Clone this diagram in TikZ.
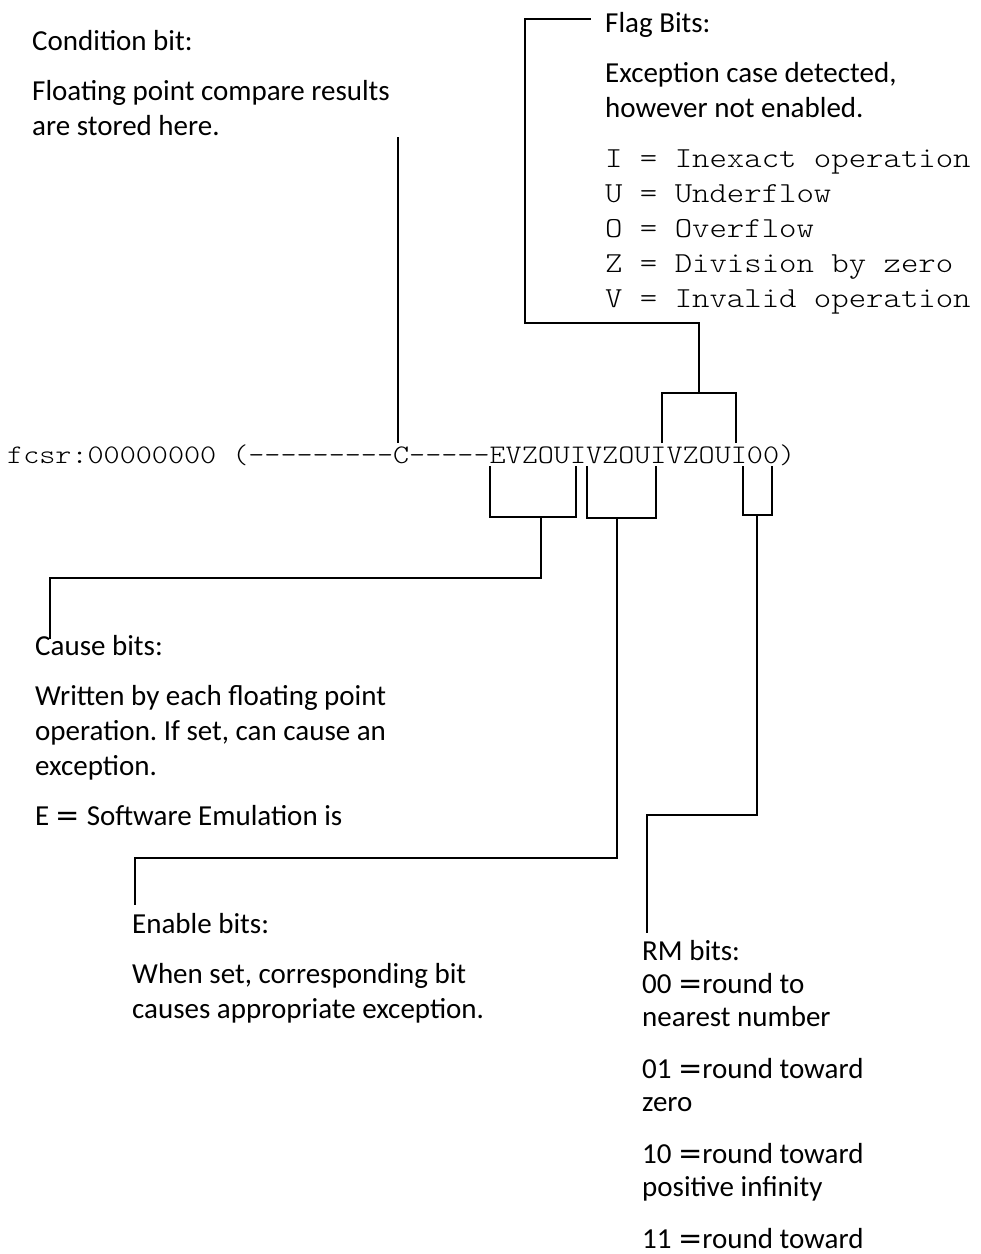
\documentclass[tikz,border=0pt]{standalone}
\usepackage{fontspec}
\setmainfont{Carlito}
\setmonofont{Latin Modern Mono Light}[FakeStretch=1.143]
\newfontfamily\eqfont{DejaVu Sans}
\newcommand{\eqs}{{\eqfont =}}
\frenchspacing

\begin{document}
\begin{tikzpicture}[
        x=1pt, y=-1pt,
        note/.style={
            anchor=north west, inner sep=0pt, align=left,
            font=\fontsize{29}{35}\selectfont
        },
        bits/.style={
            anchor=base west, inner sep=0pt,
            font=\fontsize{26.8}{32}\selectfont\ttfamily
        },
        link/.style={black, line width=2.3pt, line join=miter}
    ]
    \useasboundingbox (0,0) rectangle (981,1254);

    % --- Register contents ---
    \node[bits] (fcsr) at (7,463)
    {fcsr:00000000 (---------C-----EVZOUIVZOUIVZOUI00)};

    % --- Texts ---
    \node[note] (cond) at (32,25.5)
    {\strut Condition bit:\\[15pt]
     Floating point compare results\\are stored here.};
    \node[note] (flag) at (605,7.5)
    {\strut Flag Bits:\\[15pt]
     Exception case detected,\\however not enabled.\\[15pt]
     \texttt{I = Inexact operation}\\
     \texttt{U = Underflow}\\
     \texttt{O = Overflow}\\
     \texttt{Z = Division by zero}\\
     \texttt{V = Invalid operation}};
    \node[note] (cause) at (35,630.5)
    {\strut Cause bits:\\[15pt]
     Written by each floating point\\operation. If set, can cause an\\exception.\\[15pt]
     E \eqs{} Software Emulation is};
    \node[note] (enab) at (132,908.5)
    {\strut Enable bits:\\[15pt]
     When set, corresponding bit\\causes appropriate exception.};
    \node[note, font=\fontsize{29}{33}\selectfont] (rm) at (642,937.5)
    {\strut RM bits:\\
     00 \eqs round to\\nearest number\\[19pt]
     01 \eqs round toward\\zero\\[19pt]
     10 \eqs round toward\\positive infinity\\[19pt]
     11 \eqs round toward};

    % --- Bit positions ---
    \coordinate (bc)  at (398,443);
    \coordinate (ctop) at (398,137);
    \coordinate (f1) at (662,443);  \coordinate (f2) at (736,443);
    \coordinate (c1) at (490,466);  \coordinate (c2) at (576,466);
    \coordinate (e1) at (587,466);  \coordinate (e2) at (656,466);
    \coordinate (r1) at (743,466);  \coordinate (r2) at (772,466);

    % --- Connectors ---
    \draw[link] (bc) -- (ctop);

    \draw[link] (f1) -- ++(0,-50) -| (f2);
    \draw[link] (699,393) -- (699,323) -- (525,323) -- (525,19)
        -- ([xshift=-14pt]flag.west |- 525,19);

    \draw[link] (c1) -- ++(0,51) -| (c2);
    \draw[link] (541,517) -- (541,578) -- (50,578) -- (50,639);

    \draw[link] (e1) -- ++(0,52) -| (e2);
    \draw[link] (617,518) -- (617,858) -- (135,858) -- (135,905);

    \draw[link] (r1) -- ++(0,49) -| (r2);
    \draw[link] (757,515) -- (757,815) -- (647,815) -- (647,933);

\end{tikzpicture}
\end{document}
